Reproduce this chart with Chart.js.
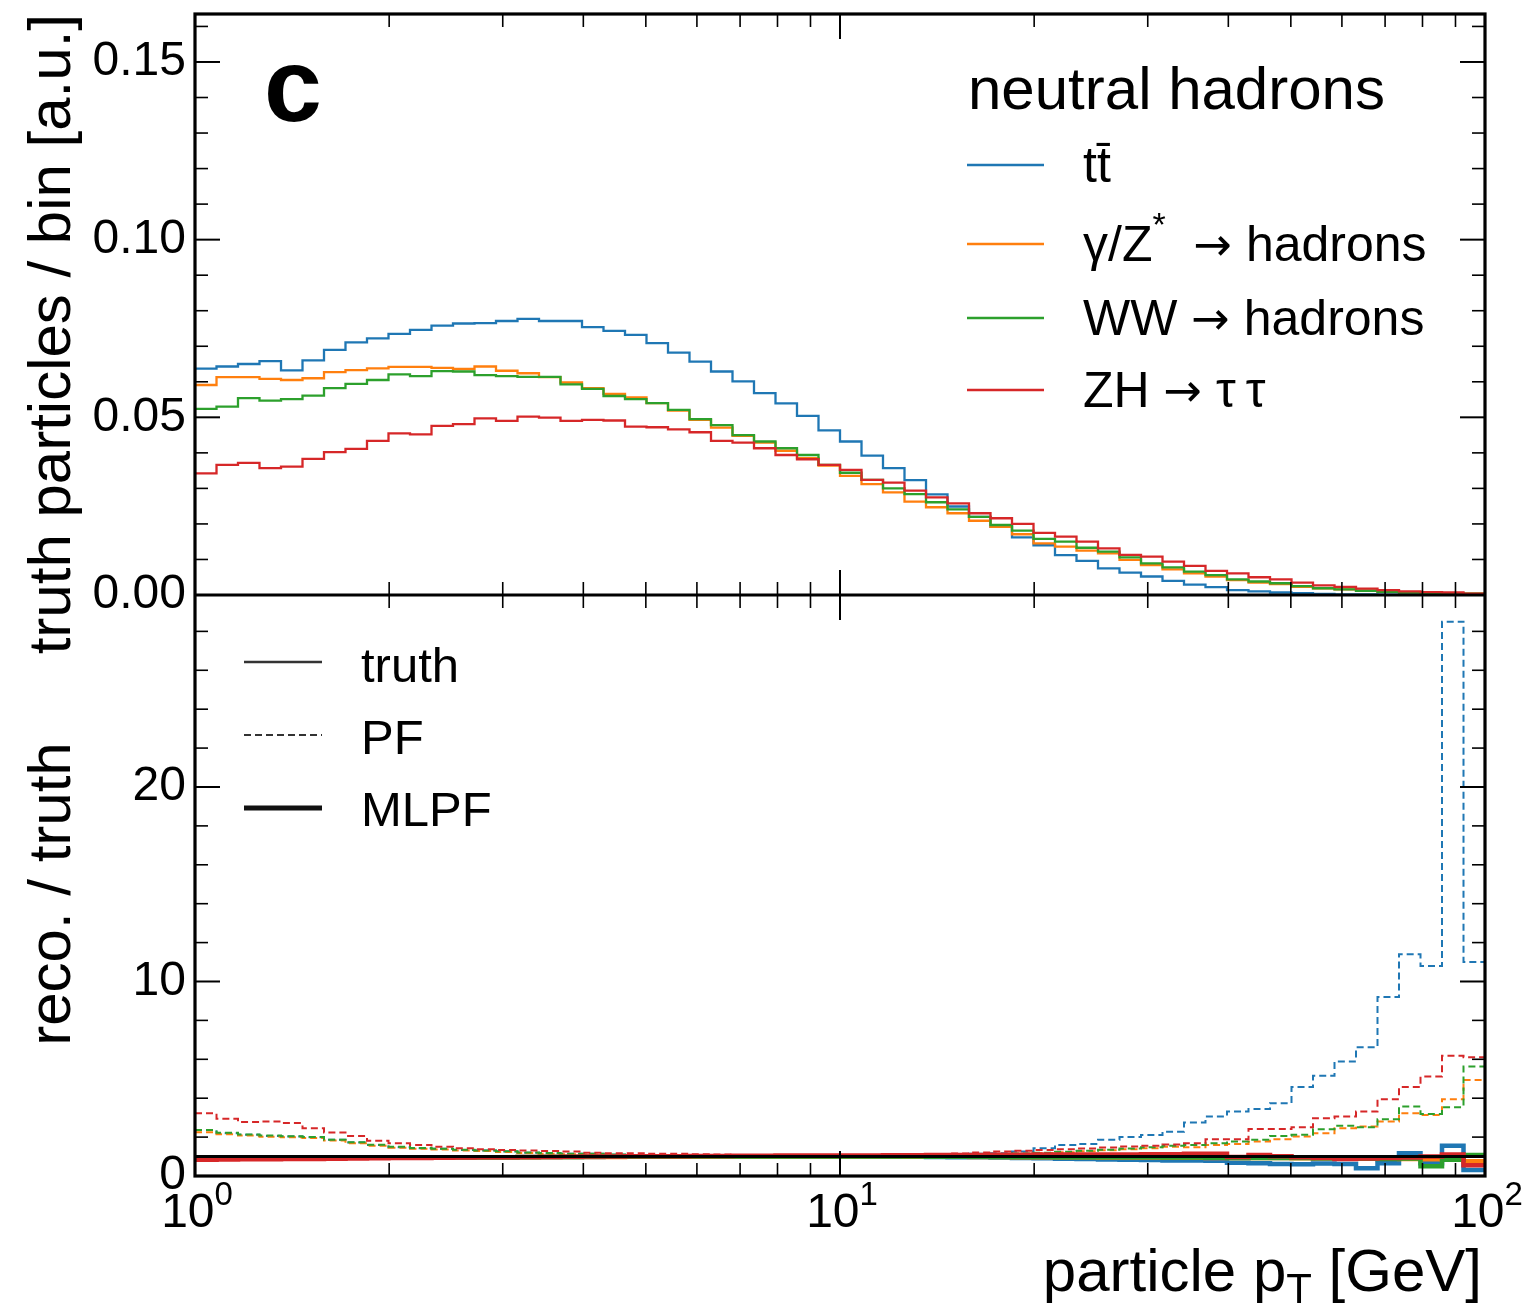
<!DOCTYPE html>
<html>
<head>
<meta charset="utf-8">
<title>neutral hadrons pT</title>
<script src="https://cdn.jsdelivr.net/npm/chart.js@4.4.0/dist/chart.umd.min.js"></script>
<style>
  html, body { margin: 0; padding: 0; background: #fff; }
  canvas { display: block; }
</style>
</head>
<body>
<canvas id="ptChart" width="1530" height="1308"></canvas>
<script>
// bin edges in particle pT [GeV] (30 log bins per decade)
var binEdges = [1, 1.0798, 1.1659, 1.2589, 1.3594, 1.4678, 1.5849, 1.7113, 1.8478, 1.9953,
    2.1544, 2.3263, 2.5119, 2.7123, 2.9286, 3.1623, 3.4146, 3.6869, 3.9811, 4.2987,
    4.6416, 5.0119, 5.4117, 5.8434, 6.3096, 6.8129, 7.3564, 7.9433, 8.5770, 9.2612,
    10, 10.798, 11.659, 12.589, 13.594, 14.678, 15.849, 17.113, 18.478, 19.953,
    21.544, 23.263, 25.119, 27.123, 29.286, 31.623, 34.146, 36.869, 39.811, 42.987,
    46.416, 50.119, 54.117, 58.434, 63.096, 68.129, 73.564, 79.433, 85.770, 92.612, 100];

// truth particles / bin [a.u.]
var ttbarTruth = [0.0637, 0.0643, 0.0650, 0.0658, 0.0632, 0.0660, 0.0690, 0.0711, 0.0722, 0.0735,
    0.0746, 0.0758, 0.0764, 0.0765, 0.0771, 0.0777, 0.0771, 0.0771, 0.0754, 0.0743,
    0.0732, 0.0709, 0.0682, 0.0657, 0.0629, 0.0601, 0.0568, 0.0539, 0.0504, 0.0463,
    0.0432, 0.0392, 0.0357, 0.0323, 0.0283, 0.0249, 0.0220, 0.0192, 0.0162, 0.0140,
    0.0112, 0.0096, 0.0075, 0.0063, 0.0052, 0.0040, 0.0029, 0.0022, 0.0014, 0.0010,
    0.0007, 0.0005, 0.0003, 0.0002, 0.0002, 0.0001, 0.0001, 0.0001, 0.0001, 0.0000];
var zqqTruth = [0.0591, 0.0613, 0.0613, 0.0608, 0.0605, 0.0610, 0.0627, 0.0633, 0.0638, 0.0642,
    0.0642, 0.0639, 0.0636, 0.0643, 0.0631, 0.0624, 0.0613, 0.0598, 0.0582, 0.0566,
    0.0556, 0.0540, 0.0519, 0.0493, 0.0471, 0.0448, 0.0429, 0.0406, 0.0385, 0.0364,
    0.0335, 0.0312, 0.0289, 0.0263, 0.0247, 0.0230, 0.0209, 0.0192, 0.0171, 0.0145,
    0.0136, 0.0125, 0.0117, 0.0099, 0.0084, 0.0072, 0.0061, 0.0052, 0.0042, 0.0035,
    0.0031, 0.0023, 0.0019, 0.0016, 0.0012, 0.0009, 0.0008, 0.0006, 0.0005, 0.0004];
var wwTruth = [0.0524, 0.0530, 0.0554, 0.0547, 0.0551, 0.0561, 0.0582, 0.0594, 0.0605, 0.0621,
    0.0616, 0.0630, 0.0629, 0.0619, 0.0616, 0.0614, 0.0614, 0.0593, 0.0580, 0.0560,
    0.0551, 0.0540, 0.0521, 0.0495, 0.0478, 0.0450, 0.0432, 0.0413, 0.0394, 0.0366,
    0.0344, 0.0324, 0.0300, 0.0284, 0.0261, 0.0241, 0.0220, 0.0197, 0.0181, 0.0158,
    0.0150, 0.0133, 0.0122, 0.0106, 0.0089, 0.0078, 0.0066, 0.0056, 0.0044, 0.0038,
    0.0033, 0.0025, 0.0019, 0.0016, 0.0012, 0.0009, 0.0007, 0.0006, 0.0005, 0.0004];
var zhTruth = [0.0342, 0.0366, 0.0372, 0.0357, 0.0361, 0.0383, 0.0402, 0.0411, 0.0434, 0.0455,
    0.0452, 0.0476, 0.0481, 0.0497, 0.0490, 0.0502, 0.0499, 0.0490, 0.0493, 0.0491,
    0.0474, 0.0472, 0.0466, 0.0458, 0.0434, 0.0429, 0.0413, 0.0394, 0.0382, 0.0366,
    0.0352, 0.0324, 0.0316, 0.0294, 0.0275, 0.0258, 0.0230, 0.0216, 0.0200, 0.0175,
    0.0164, 0.0150, 0.0131, 0.0113, 0.0108, 0.0094, 0.0082, 0.0068, 0.0061, 0.0050,
    0.0044, 0.0035, 0.0027, 0.0023, 0.0018, 0.0014, 0.0010, 0.0008, 0.0007, 0.0004];

// reco. / truth, PF
var ttbarPF = [2.37, 2.20, 2.12, 2.06, 2.03, 1.99, 1.86, 1.72, 1.60, 1.48,
    1.43, 1.40, 1.34, 1.31, 1.26, 1.20, 1.17, 1.14, 1.14, 1.09,
    1.07, 1.05, 1.04, 1.03, 1.02, 1.01, 1.00, 0.99, 0.99, 1.00,
    1.01, 1.03, 1.05, 1.08, 1.10, 1.12, 1.15, 1.17, 1.26, 1.43,
    1.60, 1.65, 1.86, 2.00, 2.11, 2.28, 2.75, 3.06, 3.31, 3.44,
    3.74, 4.57, 5.15, 5.89, 6.62, 9.20, 11.4, 10.8, 28.5, 11.0];
var zqqPF = [2.25, 2.15, 2.08, 2.02, 1.99, 1.95, 1.82, 1.68, 1.56, 1.45,
    1.40, 1.36, 1.31, 1.28, 1.23, 1.18, 1.15, 1.12, 1.11, 1.07,
    1.05, 1.04, 1.02, 1.01, 1.00, 0.99, 0.99, 0.98, 0.98, 0.99,
    0.99, 1.00, 1.01, 1.02, 1.04, 1.06, 1.08, 1.11, 1.14, 1.18,
    1.22, 1.27, 1.32, 1.38, 1.43, 1.51, 1.48, 1.60, 1.65, 1.77,
    1.89, 2.03, 2.20, 2.46, 2.55, 2.80, 3.23, 3.14, 3.95, 4.94];
var wwPF = [2.37, 2.22, 2.14, 2.08, 2.04, 2.00, 1.87, 1.73, 1.61, 1.50,
    1.44, 1.40, 1.35, 1.31, 1.27, 1.21, 1.18, 1.15, 1.14, 1.10,
    1.07, 1.06, 1.04, 1.03, 1.02, 1.01, 1.00, 1.00, 0.99, 1.00,
    1.00, 1.01, 1.02, 1.04, 1.05, 1.07, 1.10, 1.13, 1.16, 1.20,
    1.25, 1.30, 1.35, 1.42, 1.48, 1.55, 1.60, 1.69, 1.77, 1.86,
    2.06, 2.12, 2.40, 2.58, 2.51, 2.92, 3.57, 3.19, 3.54, 5.63];
var zhPF = [3.23, 2.94, 2.77, 2.80, 2.72, 2.46, 2.23, 2.06, 1.81, 1.69,
    1.60, 1.51, 1.43, 1.38, 1.34, 1.31, 1.29, 1.26, 1.20, 1.17,
    1.17, 1.14, 1.14, 1.12, 1.10, 1.08, 1.06, 1.04, 1.03, 1.02,
    1.02, 1.03, 1.05, 1.08, 1.12, 1.16, 1.21, 1.26, 1.30, 1.34,
    1.38, 1.42, 1.47, 1.52, 1.56, 1.62, 1.69, 1.89, 1.89, 2.41,
    2.41, 2.51, 2.97, 3.06, 3.31, 3.95, 4.57, 5.11, 6.18, 6.11];

// reco. / truth, MLPF
var ttbarMLPF = [0.88, 0.90, 0.91, 0.92, 0.92, 0.93, 0.93, 0.94, 0.94, 0.95,
    0.95, 0.96, 0.96, 0.97, 0.97, 0.97, 0.98, 0.98, 0.98, 0.99,
    0.99, 0.99, 1.00, 1.00, 1.00, 1.00, 1.00, 1.00, 1.00, 1.00,
    1.00, 1.00, 0.99, 0.99, 0.98, 0.97, 0.96, 0.95, 0.93, 0.91,
    0.89, 0.87, 0.85, 0.83, 0.82, 0.80, 0.80, 0.78, 0.68, 0.66,
    0.62, 0.60, 0.64, 0.62, 0.40, 0.66, 1.17, 0.66, 1.55, 0.31];
var zqqMLPF = [0.90, 0.91, 0.92, 0.92, 0.93, 0.93, 0.94, 0.94, 0.95, 0.95,
    0.96, 0.96, 0.96, 0.97, 0.97, 0.97, 0.98, 0.98, 0.98, 0.98,
    0.99, 0.99, 0.99, 0.99, 1.00, 1.00, 1.00, 1.00, 1.00, 1.00,
    1.00, 1.00, 1.00, 0.99, 0.99, 0.99, 0.98, 0.98, 0.97, 0.97,
    0.96, 0.96, 0.95, 0.95, 0.95, 0.94, 0.94, 0.93, 0.93, 0.92,
    0.92, 0.91, 0.92, 0.90, 0.90, 0.92, 0.88, 0.86, 0.84, 0.76];
var wwMLPF = [0.91, 0.92, 0.92, 0.93, 0.93, 0.94, 0.94, 0.95, 0.95, 0.96,
    0.96, 0.96, 0.97, 0.97, 0.97, 0.98, 0.98, 0.98, 0.99, 0.99,
    0.99, 0.99, 1.00, 1.00, 1.00, 1.00, 1.00, 1.00, 1.00, 1.00,
    1.00, 1.00, 1.00, 1.00, 0.99, 0.99, 0.99, 0.98, 0.98, 0.98,
    0.97, 0.97, 0.97, 0.96, 0.96, 0.95, 0.95, 0.94, 0.93, 0.93,
    0.92, 0.92, 0.90, 0.91, 0.89, 0.88, 0.90, 0.50, 0.84, 1.08];
var zhMLPF = [0.84, 0.85, 0.86, 0.86, 0.87, 0.88, 0.89, 0.90, 0.91, 0.92,
    0.93, 0.94, 0.95, 0.96, 0.97, 0.98, 0.98, 0.99, 1.00, 1.00,
    1.01, 1.02, 1.02, 1.03, 1.03, 1.04, 1.04, 1.05, 1.05, 1.05,
    1.06, 1.06, 1.07, 1.07, 1.08, 1.08, 1.08, 1.09, 1.09, 1.10,
    1.10, 1.10, 1.11, 1.11, 1.12, 1.12, 1.15, 1.15, 0.98, 1.08,
    1.02, 0.96, 0.92, 0.88, 0.90, 0.92, 0.95, 1.00, 1.10, 0.55];

var unityRatio = 1;

var sampleColors = ['#1f77b4', '#ff7f0e', '#2ca02c', '#d62728'];
var truthSeries = [ttbarTruth, zqqTruth, wwTruth, zhTruth];
var pfSeries = [ttbarPF, zqqPF, wwPF, zhPF];
var mlpfSeries = [ttbarMLPF, zqqMLPF, wwMLPF, zhMLPF];

// ticks
var xMajorTicks = [1, 10, 100];
var xMajorExp = ['0', '1', '2'];
var xMinorTicks = [2, 3, 4, 5, 6, 7, 8, 9, 20, 30, 40, 50, 60, 70, 80, 90];
var yTopTicks = [0, 0.05, 0.10, 0.15];
var yTopTickLabels = ['0.00', '0.05', '0.10', '0.15'];
var yTopMinor = [0.01, 0.02, 0.03, 0.04, 0.06, 0.07, 0.08, 0.09, 0.11, 0.12, 0.13, 0.14, 0.16];
var yBotTicks = [0, 10, 20];
var yBotTickLabels = ['0', '10', '20'];
var yBotMinor = [2, 4, 6, 8, 12, 14, 16, 18, 22, 24, 26, 28];

var FONT = '"Liberation Sans", Arial, Helvetica, sans-serif';
var ARROW_FONT = '"DejaVu Sans", sans-serif';

function histData(vals) {
    return binEdges.map(function (e, k) {
        return { x: e, y: vals[Math.min(k, vals.length - 1)] };
    });
}

function setFont(ctx, size, bold, family) {
    ctx.font = (bold ? 'bold ' : '') + size + 'px ' + (family || FONT);
}

// draws a row of text pieces (for super/subscripts)
function drawRich(ctx, parts, x, y, align) {
    var total = 0;
    parts.forEach(function (p) {
        setFont(ctx, p.size, p.bold, p.family);
        p.w = ctx.measureText(p.text).width;
        total += p.w;
    });
    var cx = x;
    if (align === 'center') cx = x - total / 2;
    if (align === 'right') cx = x - total;
    ctx.textAlign = 'left';
    ctx.textBaseline = 'alphabetic';
    parts.forEach(function (p) {
        setFont(ctx, p.size, p.bold, p.family);
        ctx.fillText(p.text, cx, y + (p.dy || 0));
        cx += p.w;
    });
}

function arrow() {
    return { text: '\u2192', size: 46, family: ARROW_FONT, dy: -1 };
}

function tickLine(ctx, x0, y0, x1, y1, w) {
    ctx.lineWidth = w;
    ctx.beginPath();
    ctx.moveTo(x0, y0);
    ctx.lineTo(x1, y1);
    ctx.stroke();
}

function legendLine(ctx, x0, x1, y, color, width, dash) {
    ctx.save();
    ctx.strokeStyle = color;
    ctx.lineWidth = width;
    ctx.setLineDash(dash || []);
    ctx.beginPath();
    ctx.moveTo(x0, y);
    ctx.lineTo(x1, y);
    ctx.stroke();
    ctx.restore();
}

var panelDecor = {
    id: 'panelDecor',
    afterDraw: function (chart) {
        var ctx = chart.ctx;
        var xs = chart.scales.x, yt = chart.scales.y, yb = chart.scales.y2;
        var left = chart.chartArea.left, right = chart.chartArea.right;
        ctx.save();
        ctx.strokeStyle = '#000';
        ctx.fillStyle = '#000';

        // inward x ticks on both edges of both panels
        [yt, yb].forEach(function (ys) {
            xMajorTicks.forEach(function (v) {
                var px = xs.getPixelForValue(v);
                tickLine(ctx, px, ys.bottom, px, ys.bottom - 25, 2);
                tickLine(ctx, px, ys.top, px, ys.top + 25, 2);
            });
            xMinorTicks.forEach(function (v) {
                var px = xs.getPixelForValue(v);
                tickLine(ctx, px, ys.bottom, px, ys.bottom - 13, 1.6);
                tickLine(ctx, px, ys.top, px, ys.top + 13, 1.6);
            });
        });

        function yTicks(ys, majors, minors) {
            majors.forEach(function (v) {
                var py = ys.getPixelForValue(v);
                tickLine(ctx, left, py, left + 25, py, 2);
                tickLine(ctx, right, py, right - 25, py, 2);
            });
            minors.forEach(function (v) {
                var py = ys.getPixelForValue(v);
                tickLine(ctx, left, py, left + 13, py, 1.6);
                tickLine(ctx, right, py, right - 13, py, 1.6);
            });
        }
        yTicks(yt, yTopTicks, yTopMinor);
        yTicks(yb, yBotTicks, yBotMinor);

        // frame and panel divider
        ctx.lineWidth = 3.2;
        ctx.strokeRect(left, yt.top, right - left, yb.bottom - yt.top);
        tickLine(ctx, left, yt.bottom, right, yt.bottom, 3.2);

        // y tick labels
        setFont(ctx, 48);
        ctx.textAlign = 'right';
        ctx.textBaseline = 'middle';
        yTopTicks.forEach(function (v, k) {
            ctx.fillText(yTopTickLabels[k], 186, yt.getPixelForValue(v));
        });
        yBotTicks.forEach(function (v, k) {
            ctx.fillText(yBotTickLabels[k], 186, yb.getPixelForValue(v));
        });

        // x tick labels 10^n
        xMajorTicks.forEach(function (v, k) {
            drawRich(ctx, [
                { text: '10', size: 48 },
                { text: xMajorExp[k], size: 33, dy: -22 }
            ], xs.getPixelForValue(v) + 2, yb.bottom + 51, 'center');
        });

        // axis titles
        ctx.save();
        ctx.translate(70, yt.top);
        ctx.rotate(-Math.PI / 2);
        drawRich(ctx, [{ text: 'truth particles / bin [a.u.]', size: 60 }], 0, 0, 'right');
        ctx.restore();

        ctx.save();
        ctx.translate(70, 894);
        ctx.rotate(-Math.PI / 2);
        drawRich(ctx, [{ text: 'reco. / truth', size: 60 }], 0, 0, 'center');
        ctx.restore();

        drawRich(ctx, [
            { text: 'particle p', size: 60 },
            { text: 'T', size: 42, dy: 12 },
            { text: ' [GeV]', size: 60 }
        ], right - 3, 1291, 'right');

        // panel letter
        drawRich(ctx, [{ text: 'c', size: 104, bold: true }], 264, 121, 'left');

        // sample legend
        drawRich(ctx, [{ text: 'neutral hadrons', size: 60 }], 968, 109, 'left');
        var legY = [165, 244, 318, 390];
        var legText = [
            [{ text: 'tt\u0304', size: 50 }],
            [{ text: '\u03b3/Z', size: 50 }, { text: '*', size: 34, dy: -25 }, { text: '  ', size: 50 }, arrow(), { text: ' hadrons', size: 50 }],
            [{ text: 'WW ', size: 50 }, arrow(), { text: ' hadrons', size: 50 }],
            [{ text: 'ZH ', size: 50 }, arrow(), { text: ' \u03c4\u2009\u03c4', size: 50 }]
        ];
        legY.forEach(function (ly, k) {
            legendLine(ctx, 967, 1044, ly, sampleColors[k], 2.6);
            drawRich(ctx, legText[k], 1083, ly + 17, 'left');
        });

        // style legend
        legendLine(ctx, 244, 322, 662, '#333', 2.6);
        legendLine(ctx, 244, 322, 735, '#333', 2, [7, 4]);
        legendLine(ctx, 244, 322, 808, '#111', 5);
        drawRich(ctx, [{ text: 'truth', size: 49 }], 361, 682, 'left');
        drawRich(ctx, [{ text: 'PF', size: 49 }], 361, 754, 'left');
        drawRich(ctx, [{ text: 'MLPF', size: 49 }], 361, 826, 'left');

        ctx.restore();
    }
};

var datasets = [];
// reference line at ratio 1 (drawn on top)
datasets.push({
    data: [{ x: binEdges[0], y: unityRatio }, { x: binEdges[binEdges.length - 1], y: unityRatio }],
    yAxisID: 'y2', borderColor: '#000', borderWidth: 3, order: 0
});
truthSeries.forEach(function (vals, s) {
    datasets.push({
        data: histData(vals), yAxisID: 'y', borderColor: sampleColors[s],
        borderWidth: 2.3, stepped: true, order: 40 - s
    });
});
pfSeries.forEach(function (vals, s) {
    datasets.push({
        data: histData(vals), yAxisID: 'y2', borderColor: sampleColors[s],
        borderWidth: 2, borderDash: [7, 4], stepped: true, order: 30 - s
    });
});
mlpfSeries.forEach(function (vals, s) {
    datasets.push({
        data: histData(vals), yAxisID: 'y2', borderColor: sampleColors[s],
        borderWidth: 4.5, stepped: true, order: 20 - s
    });
});

var ctx = document.getElementById('ptChart').getContext('2d');
var ptChart = new Chart(ctx, {
    type: 'line',
    data: { datasets: datasets },
    options: {
        responsive: false,
        animation: false,
        layout: { padding: { left: 195, right: 45, top: 14, bottom: 132 } },
        elements: {
            point: { radius: 0 },
            line: { tension: 0, fill: false, borderJoinStyle: 'miter' }
        },
        plugins: { legend: { display: false }, tooltip: { enabled: false } },
        scales: {
            x: { type: 'logarithmic', min: 1, max: 100, display: false },
            y: { type: 'linear', position: 'right', min: 0, max: 0.1635, stack: 'panels', stackWeight: 1, display: false },
            y2: { type: 'linear', position: 'right', min: 0, max: 29.87, stack: 'panels', stackWeight: 1, display: false }
        }
    },
    plugins: [panelDecor]
});
</script>
</body>
</html>
